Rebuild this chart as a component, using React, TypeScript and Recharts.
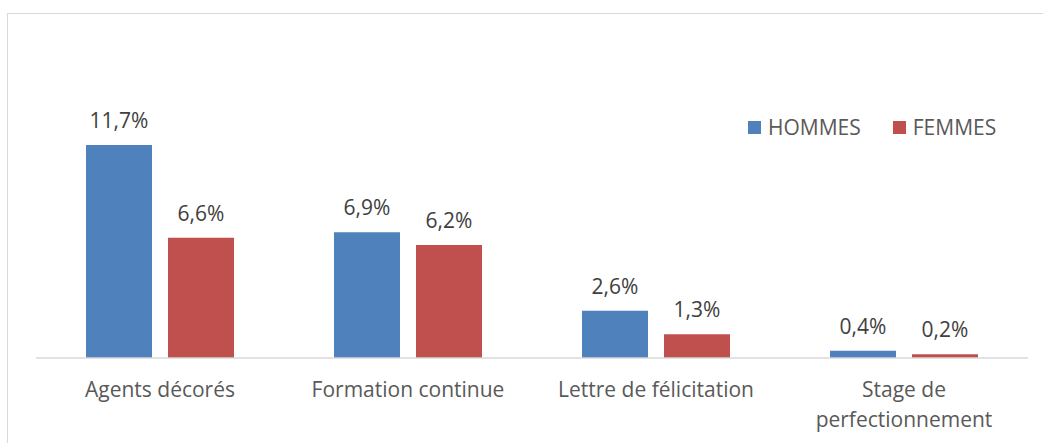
import React from "react";
import { BarChart, Bar, XAxis, YAxis, LabelList } from "recharts";

const categories = [
  "Agents décorés",
  "Formation continue",
  "Lettre de félicitation",
  "Stage de perfectionnement",
];
const hommes = [11.7, 6.9, 2.6, 0.4];
const femmes = [6.6, 6.2, 1.3, 0.2];
const seriesNames = ["HOMMES", "FEMMES"];
const colors = ["#4F81BD", "#C0504D"];

const data = categories.map((name, i) => ({
  name,
  hommes: hommes[i],
  femmes: femmes[i],
}));

const FONT = "'Open Sans', sans-serif";
const FONT_SIZE = 21;

function formatPct(v: number) {
  return v.toFixed(1).replace(".", ",") + "%";
}

function wrapLabel(label: string, maxChars = 23) {
  if (label.length <= maxChars) return [label];
  const words = label.split(" ");
  const lines: string[] = [];
  let cur = "";
  for (const w of words) {
    const next = cur ? cur + " " + w : w;
    if (next.length > 10 && cur) {
      lines.push(cur);
      cur = w;
    } else {
      cur = next;
    }
  }
  if (cur) lines.push(cur);
  return lines;
}

function CategoryTick(props: any) {
  const { x, y, payload } = props;
  const lines = wrapLabel(payload.value);
  return (
    <text
      x={x}
      y={y}
      textAnchor="middle"
      fill="#595959"
      fontFamily={FONT}
      fontSize={FONT_SIZE}
    >
      {lines.map((l, i) => (
        <tspan key={i} x={x} dy={i === 0 ? 31 : 30}>
          {l}
        </tspan>
      ))}
    </text>
  );
}

// legend drawn outside the chart so it doesn't push the plot area down
function ChartLegend() {
  return (
    <div
      style={{
        position: "absolute",
        left: 748,
        top: 114,
        display: "flex",
        alignItems: "center",
        fontFamily: FONT,
        fontSize: FONT_SIZE,
        color: "#595959",
      }}
    >
      {seriesNames.map((s, i) => (
        <div key={s} style={{ display: "flex", alignItems: "center", marginRight: i === 0 ? 32 : 0 }}>
          <span style={{ width: 13, height: 13, background: colors[i], display: "inline-block", marginRight: 7 }} />
          <span style={{ lineHeight: "26px" }}>{s}</span>
        </div>
      ))}
    </div>
  );
}

export default function App() {
  return (
    <div style={{ position: "absolute", left: 0, top: 0, width: 1043, height: 443, overflow: "hidden", background: "#fff" }}>
      <div
        style={{
          position: "absolute",
          left: 7,
          top: 13,
          width: 1200,
          height: 600,
          border: "1px solid #d9d9d9",
        }}
      />
      <div style={{ position: "absolute", left: 0, top: 0 }}>
        <BarChart
          width={1043}
          height={443}
          data={data}
          margin={{ top: 103, right: 15, bottom: 25, left: 36 }}
          barGap={16}
          barSize={66}
        >
          <XAxis
            dataKey="name"
            height={60}
            axisLine={{ stroke: "#d9d9d9", strokeWidth: 1.5 }}
            tickLine={false}
            interval={0}
            tick={<CategoryTick />}
          />
          <YAxis hide domain={[0, 14]} allowDataOverflow />
          <Bar dataKey="hommes" name={seriesNames[0]} fill={colors[0]} isAnimationActive={false}>
            <LabelList
              dataKey="hommes"
              position="top"
              offset={17}
              formatter={(v: any) => formatPct(Number(v))}
              fill="#404040"
              fontFamily={FONT}
              fontSize={FONT_SIZE}
            />
          </Bar>
          <Bar dataKey="femmes" name={seriesNames[1]} fill={colors[1]} isAnimationActive={false}>
            <LabelList
              dataKey="femmes"
              position="top"
              offset={17}
              formatter={(v: any) => formatPct(Number(v))}
              fill="#404040"
              fontFamily={FONT}
              fontSize={FONT_SIZE}
            />
          </Bar>
        </BarChart>
      </div>
      <ChartLegend />
    </div>
  );
}
